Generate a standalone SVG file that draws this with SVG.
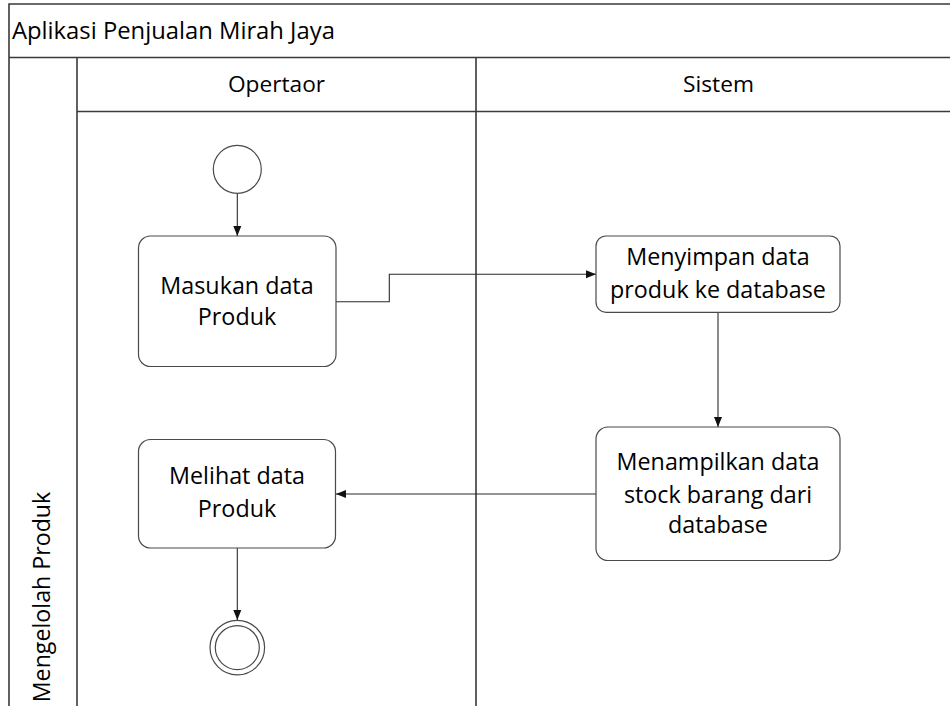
<svg xmlns="http://www.w3.org/2000/svg" width="950" height="706" viewBox="0 0 950 706">
  <style>
    .frame { fill: none; stroke: #3a3a3a; stroke-width: 1.6; }
    .node { fill: #ffffff; stroke: #4a4a4a; stroke-width: 1.2; }
    .edge { fill: none; stroke: #2a2a2a; stroke-width: 1.1; }
    text { font-family: "Open Sans", "Noto Sans", sans-serif; fill: #000000; }
    .lbl { font-size: 23.3px; text-anchor: middle; }
    .head { font-size: 22.7px; text-anchor: middle; }
  </style>
  <defs>
    <marker id="arrow" viewBox="0 0 10 10" refX="10" refY="5" markerWidth="10" markerHeight="10" markerUnits="userSpaceOnUse" orient="auto">
      <path d="M0,1 L10,5 L0,9 Z" fill="#111111"/>
    </marker>
  </defs>

  <rect width="950" height="706" fill="#ffffff"/>

  <!-- pool and lanes -->
  <g id="pool">
    <path class="frame" d="M960,4 H9 V706"/>
    <path class="frame" d="M9,57.5 H960"/>
    <path class="frame" d="M77,111.5 H960"/>
    <path class="frame" d="M77,57.5 V706"/>
    <path class="frame" d="M476,57.5 V706"/>
    <text x="12" y="39" style="font-size:23.8px">Aplikasi Penjualan Mirah Jaya</text>
    <text class="head" x="276.5" y="92">Opertaor</text>
    <text class="head" x="718.5" y="92">Sistem</text>
    <text x="50" y="597" transform="rotate(-90 50 597)" style="font-size:23.2px;text-anchor:middle">Mengelolah Produk</text>
  </g>

  <!-- connectors -->
  <g id="connectors">
    <path class="edge" d="M237.3,193.3 V236" marker-end="url(#arrow)"/>
    <path class="edge" d="M336,301.7 H389.3 V274.3 H596" marker-end="url(#arrow)"/>
    <path class="edge" d="M718,312.3 V427" marker-end="url(#arrow)"/>
    <path class="edge" d="M596,494 H336" marker-end="url(#arrow)"/>
    <path class="edge" d="M237.3,548 V620" marker-end="url(#arrow)"/>
  </g>

  <!-- nodes -->
  <g id="start">
    <circle class="node" cx="237.3" cy="169.3" r="24"/>
  </g>
  <g id="masukan">
    <rect class="node" x="138.5" y="236" width="197.5" height="130.5" rx="12"/>
    <text class="lbl" x="237" y="293.5">Masukan data</text>
    <text class="lbl" x="237" y="325">Produk</text>
  </g>
  <g id="menyimpan">
    <rect class="node" x="596" y="236" width="244" height="76.3" rx="10"/>
    <text class="lbl" x="718" y="264.5">Menyimpan data</text>
    <text class="lbl" x="718" y="298.3">produk ke database</text>
  </g>
  <g id="menampilkan">
    <rect class="node" x="596" y="427" width="244" height="133.5" rx="12"/>
    <text class="lbl" x="718" y="470">Menampilkan data</text>
    <text class="lbl" x="718" y="502.7">stock barang dari</text>
    <text class="lbl" x="718" y="533.3">database</text>
  </g>
  <g id="melihat">
    <rect class="node" x="138.5" y="439.5" width="197" height="108.5" rx="12"/>
    <text class="lbl" x="237" y="484.3">Melihat data</text>
    <text class="lbl" x="237" y="516.7">Produk</text>
  </g>
  <g id="end">
    <circle class="node" cx="237.3" cy="647.6" r="27.3"/>
    <circle class="node" cx="237.3" cy="647.6" r="22"/>
  </g>
</svg>
